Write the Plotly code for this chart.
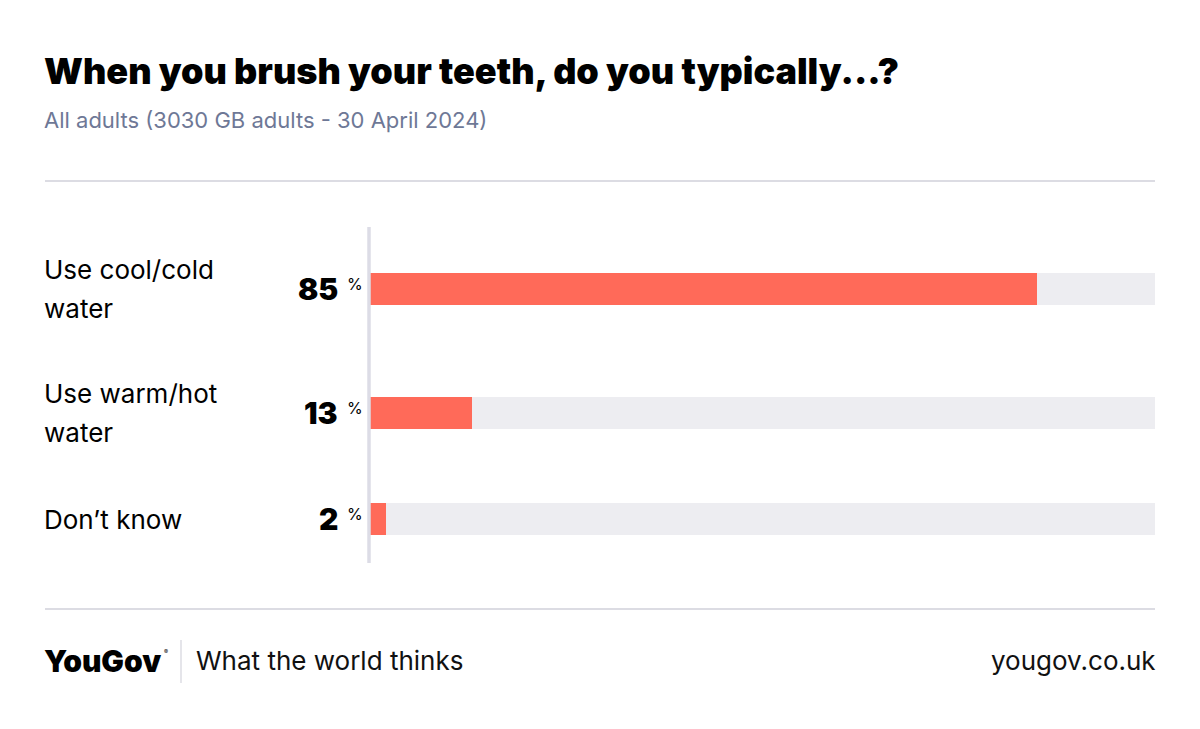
import plotly.graph_objects as go

# ---- data ----
categories = ["Use cool/cold<br>water", "Use warm/hot<br>water", "Don’t know"]
values = [85, 13, 2]
track_max = 100

title = "When you brush your teeth, do you typically...?"
subtitle = "All adults (3030 GB adults - 30 April 2024)"
brand = "YouGov"
tagline = "What the world thinks"
site = "yougov.co.uk"

# ---- styling / layout constants ----
W, H = 1200, 729
BAR = "#ff6a59"
TRACK = "#ededf1"
AXIS = "#dcdce6"
RULE = "#dcdce3"
SUB = "#6e7896"
FONT = "Inter, Roboto, Arial, sans-serif"
HEAVY = "Inter, Roboto, Arial, sans-serif"

plot_left, plot_right = 370, 1155
plot_top = 227
line_gap = 39
XS = -3  # compensate annotation padding

# row heights derive from number of label lines
lines = [c.split("<br>") for c in categories]
heights = [52 + 36 * len(l) for l in lines]
centers = []
acc = 0
for h in heights:
    centers.append(acc + h / 2)
    acc += h
total = acc
plot_bottom = plot_top + total

fig = go.Figure()
fig.add_trace(go.Bar(
    x=[track_max] * len(values), y=centers, orientation="h",
    marker=dict(color=TRACK, line=dict(width=0)), width=32,
    hoverinfo="skip", showlegend=False,
))
fig.add_trace(go.Bar(
    x=values, y=centers, orientation="h",
    marker=dict(color=BAR, line=dict(width=0)), width=32,
    showlegend=False,
))

annotations = []
# title + subtitle
annotations.append(dict(x=45 / W, y=1 - 71 / H, xref="paper", yref="paper", xshift=XS,
                        text=title, showarrow=False, xanchor="left", yanchor="middle",
                        font=dict(family=HEAVY, size=36, color="#000000", weight=900)))
annotations.append(dict(x=45 / W, y=1 - 120 / H, xref="paper", yref="paper", xshift=XS,
                        text=subtitle, showarrow=False, xanchor="left", yanchor="middle",
                        font=dict(family=FONT, size=22, color=SUB)))

for ls, c, v in zip(lines, centers, values):
    n = len(ls)
    for i, t in enumerate(ls):
        off = (i - (n - 1) / 2) * line_gap
        annotations.append(dict(x=45 / W, y=c, xref="paper", yref="y", text=t, xshift=XS,
                                showarrow=False, xanchor="left", yanchor="middle",
                                yshift=-off,
                                font=dict(family=FONT, size=26, color="#000000")))
    annotations.append(dict(x=338 / W, y=c, xref="paper", yref="y", text=str(v),
                            showarrow=False, xanchor="right", yanchor="middle", xshift=2,
                            font=dict(family=HEAVY, size=30, color="#000000", weight=900)))
    annotations.append(dict(x=345 / W, y=c, xref="paper", yref="y", text="%",
                            showarrow=False, xanchor="left", yanchor="middle", yshift=5,
                            font=dict(family=FONT, size=16, color="#000000")))

# footer
annotations.append(dict(x=45 / W, y=1 - 661 / H, xref="paper", yref="paper", xshift=XS,
                        text=brand, showarrow=False, xanchor="left", yanchor="middle",
                        font=dict(family=HEAVY, size=30, color="#000000", weight=900)))
annotations.append(dict(x=162 / W, y=1 - 651 / H, xref="paper", yref="paper",
                        text="®", showarrow=False, xanchor="left", yanchor="middle",
                        font=dict(family=FONT, size=6, color="#000000")))
annotations.append(dict(x=197 / W, y=1 - 660 / H, xref="paper", yref="paper", xshift=XS,
                        text=tagline, showarrow=False, xanchor="left", yanchor="middle",
                        font=dict(family=FONT, size=26, color="#111111")))
annotations.append(dict(x=1155 / W, y=1 - 660 / H, xref="paper", yref="paper", xshift=3,
                        text=site, showarrow=False, xanchor="right", yanchor="middle",
                        font=dict(family=FONT, size=26, color="#111111")))

shapes = [
    dict(type="line", xref="paper", yref="paper", x0=45 / W, x1=1155 / W,
         y0=1 - 181 / H, y1=1 - 181 / H, line=dict(color=RULE, width=2)),
    dict(type="line", xref="paper", yref="paper", x0=45 / W, x1=1155 / W,
         y0=1 - 609 / H, y1=1 - 609 / H, line=dict(color=RULE, width=2)),
    dict(type="line", xref="paper", yref="paper", x0=181 / W, x1=181 / W,
         y0=1 - 640 / H, y1=1 - 683 / H, line=dict(color=RULE, width=1.5)),
    dict(type="line", xref="paper", yref="paper", x0=(plot_left - 1) / W, x1=(plot_left - 1) / W,
         y0=1 - plot_top / H, y1=1 - plot_bottom / H, line=dict(color=AXIS, width=3.5)),
]

fig.update_layout(
    width=W, height=H,
    margin=dict(l=0, r=0, t=0, b=0),
    paper_bgcolor="white", plot_bgcolor="white",
    barmode="overlay", bargap=0,
    xaxis=dict(domain=[plot_left / W, plot_right / W], range=[0, track_max],
               visible=False, fixedrange=True),
    yaxis=dict(domain=[1 - plot_bottom / H, 1 - plot_top / H], range=[total, 0],
               visible=False, fixedrange=True),
    annotations=annotations, shapes=shapes,
    font=dict(family=FONT),
)

fig.write_html("out.html")
